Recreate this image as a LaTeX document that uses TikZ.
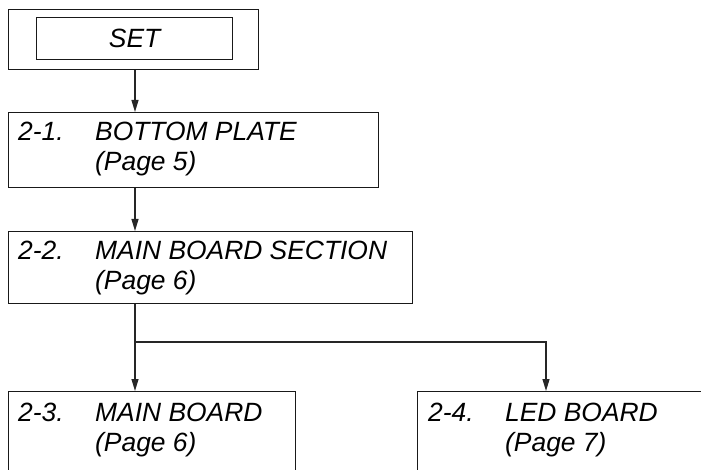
\documentclass[tikz,border=0pt]{standalone}
\usepackage{fontspec}
\setmainfont{Liberation Sans}
\usetikzlibrary{arrows.meta}
\begin{document}
\begin{tikzpicture}[x=1pt,y=-1pt,
  box/.style={draw=black!90,line width=1.2pt,rectangle,inner sep=0pt,anchor=north west},
  txt/.style={anchor=base west,inner sep=0pt,font=\fontsize{26.4}{30}\selectfont\itshape},
  arr/.style={draw=black!85,line width=1.2pt,-{Triangle[length=12pt,width=7pt]}},
  ln/.style={draw=black!85,line width=1.2pt}]
\useasboundingbox (0,0) rectangle (701,470);
\clip (0,0) rectangle (701,470);
% set boxes
\node[box,minimum width=250pt,minimum height=60pt] (setouter) at (8,9) {};
\node[box,minimum width=196pt,minimum height=42pt] (setinner) at (36,17) {};
\node[inner sep=0pt,font=\fontsize{26.4}{30}\selectfont\itshape] (settxt) at (setinner.center) {SET};
% step boxes
\node[box,minimum width=370pt,minimum height=75pt] (b21) at (8,112) {};
\node[box,minimum width=404pt,minimum height=72pt] (b22) at (8,231) {};
\node[box,minimum width=287pt,minimum height=120pt] (b23) at (8,391) {};
\node[box,minimum width=320pt,minimum height=120pt] (b24) at (417,391) {};
% texts
\node[txt] (t21a) at ([shift={(10,29)}]b21.north west) {2-1.};
\node[txt] (t21b) at ([shift={(87,29)}]b21.north west) {BOTTOM PLATE};
\node[txt] (t21c) at ([shift={(87,59)}]b21.north west) {(Page 5)};
\node[txt] (t22a) at ([shift={(10,29)}]b22.north west) {2-2.};
\node[txt] (t22b) at ([shift={(87,29)}]b22.north west) {MAIN BOARD SECTION};
\node[txt] (t22c) at ([shift={(87,59)}]b22.north west) {(Page 6)};
\node[txt] (t23a) at ([shift={(10,30)}]b23.north west) {2-3.};
\node[txt] (t23b) at ([shift={(87,30)}]b23.north west) {MAIN BOARD};
\node[txt] (t23c) at ([shift={(87,60)}]b23.north west) {(Page 6)};
\node[txt] (t24a) at ([shift={(11,30)}]b24.north west) {2-4.};
\node[txt] (t24b) at ([shift={(88,30)}]b24.north west) {LED BOARD};
\node[txt] (t24c) at ([shift={(88,60)}]b24.north west) {(Page 7)};
% connectors
\coordinate (col) at (135,0);
\coordinate (rcol) at (546,0);
\coordinate (split) at (135,342);
\draw[arr] (col |- setouter.south) -- (col |- b21.north);
\draw[arr] (col |- b21.south) -- (col |- b22.north);
\draw[arr] (col |- b22.south) -- (col |- b23.north);
\draw[arr] (split) -| (rcol |- b24.north);
\end{tikzpicture}
\end{document}
